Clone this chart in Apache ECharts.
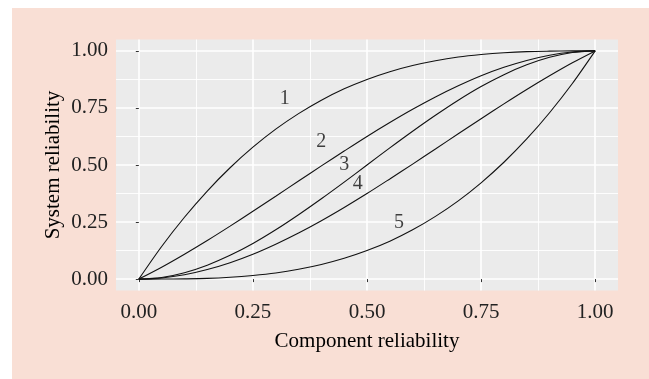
<!DOCTYPE html>
<html>
<head>
<meta charset="utf-8">
<script src="https://cdn.jsdelivr.net/npm/echarts@6/dist/echarts.min.js"></script>
<style>
  html, body { margin: 0; padding: 0; background: #ffffff; }
  #chart { position: absolute; left: 0; top: 0; width: 649px; height: 379px; }
</style>
</head>
<body>
<div id="chart"></div>
<script>
// Component reliability (x) sampled every 0.05
const componentReliability = [0, 0.05, 0.1, 0.15, 0.2, 0.25, 0.3, 0.35, 0.4, 0.45, 0.5,
  0.55, 0.6, 0.65, 0.7, 0.75, 0.8, 0.85, 0.9, 0.95, 1];

// System reliability for the five configurations
const system1 = [0, 0.143, 0.271, 0.386, 0.488, 0.578, 0.657, 0.725, 0.784, 0.834, 0.875,
  0.909, 0.936, 0.957, 0.973, 0.984, 0.992, 0.997, 0.999, 1.0, 1];
const system2 = [0, 0.052, 0.109, 0.169, 0.232, 0.297, 0.363, 0.430, 0.496, 0.561, 0.625,
  0.686, 0.744, 0.798, 0.847, 0.891, 0.928, 0.958, 0.981, 0.995, 1];
const system3 = [0, 0.007, 0.028, 0.061, 0.104, 0.156, 0.216, 0.282, 0.352, 0.425, 0.5,
  0.575, 0.648, 0.718, 0.784, 0.844, 0.896, 0.939, 0.972, 0.993, 1];
const system4 = [0, 0.005, 0.019, 0.042, 0.072, 0.109, 0.153, 0.202, 0.256, 0.314, 0.375,
  0.439, 0.504, 0.570, 0.637, 0.703, 0.768, 0.831, 0.891, 0.948, 1];
const system5 = [0, 0.0001, 0.001, 0.003, 0.008, 0.016, 0.027, 0.043, 0.064, 0.091, 0.125,
  0.166, 0.216, 0.275, 0.343, 0.422, 0.512, 0.614, 0.729, 0.857, 1];

// Curve annotations
const curveLabels = ['1', '2', '3', '4', '5'];
const curveLabelX = [0.32, 0.40, 0.45, 0.48, 0.57];
const curveLabelY = [0.79, 0.60, 0.50, 0.42, 0.245];

// Axis breaks
const majorBreaks = [0, 0.25, 0.5, 0.75, 1];
const minorBreaks = [0.125, 0.375, 0.625, 0.875];

const FONT = '"Liberation Serif", "DejaVu Serif", serif';

function pairs(xs, ys) { return xs.map((x, i) => [x, ys[i]]); }

const chart = echarts.init(document.getElementById('chart'), null, { renderer: 'canvas' });

function tickLabels(margin) {
  return {
    customValues: majorBreaks, formatter: v => v.toFixed(2), color: '#222222',
    fontFamily: FONT, fontSize: 21, margin: margin
  };
}
function majorAxis(extra) {
  return Object.assign({
    type: 'value', min: -0.05, max: 1.05, gridIndex: 0,
    axisLine: { show: false },
    axisTick: { show: true, customValues: majorBreaks, length: 3, lineStyle: { color: '#333333', width: 1 } },
    splitLine: { show: true, lineStyle: { color: '#ffffff', width: 1.6 } },
    nameMoveOverlap: false,
    nameTextStyle: { fontFamily: FONT, fontSize: 21, color: '#000000' }
  }, extra);
}
function minorAxis(extra) {
  return Object.assign({
    type: 'value', min: -0.05, max: 1.05, gridIndex: 0,
    axisLine: { show: false },
    axisTick: { show: false, customValues: minorBreaks },
    axisLabel: { show: false, customValues: minorBreaks },
    splitLine: { show: true, lineStyle: { color: '#ffffff', width: 0.9 } }
  }, extra);
}

const curves = [system1, system2, system3, system4, system5].map(ys => ({
  type: 'line', xAxisIndex: 0, yAxisIndex: 0,
  data: pairs(componentReliability, ys),
  smooth: 0.3,
  showSymbol: false, symbol: 'none', silent: true,
  lineStyle: { color: '#111111', width: 1.1 }
}));

chart.setOption({
  animation: false,
  backgroundColor: 'transparent',
  graphic: [{
    type: 'rect', left: 12, top: 8, z: -10,
    shape: { width: 637, height: 371 },
    style: { fill: '#f9dfd5' }
  }],
  grid: {
    left: 116, top: 39.5, width: 502, height: 251,
    show: true, backgroundColor: '#ebebeb', borderWidth: 0, containLabel: false
  },
  xAxis: [
    majorAxis({ position: 'bottom', name: 'Component reliability', nameLocation: 'middle', nameGap: 40,
      axisLabel: tickLabels(11) }),
    minorAxis({ position: 'top' })
  ],
  yAxis: [
    majorAxis({ position: 'left', name: 'System reliability', nameLocation: 'middle', nameGap: 52,
      axisLabel: tickLabels(8) }),
    minorAxis({ position: 'right' })
  ],
  series: curves.concat([{
    type: 'scatter', xAxisIndex: 0, yAxisIndex: 0, symbolSize: 0, silent: true,
    data: curveLabelX.map((x, i) => ({ value: [x, curveLabelY[i]], name: curveLabels[i] })),
    label: {
      show: true, position: 'inside', formatter: p => p.name,
      fontFamily: FONT, fontSize: 20, color: '#111111'
    }
  }])
});
</script>
</body>
</html>
